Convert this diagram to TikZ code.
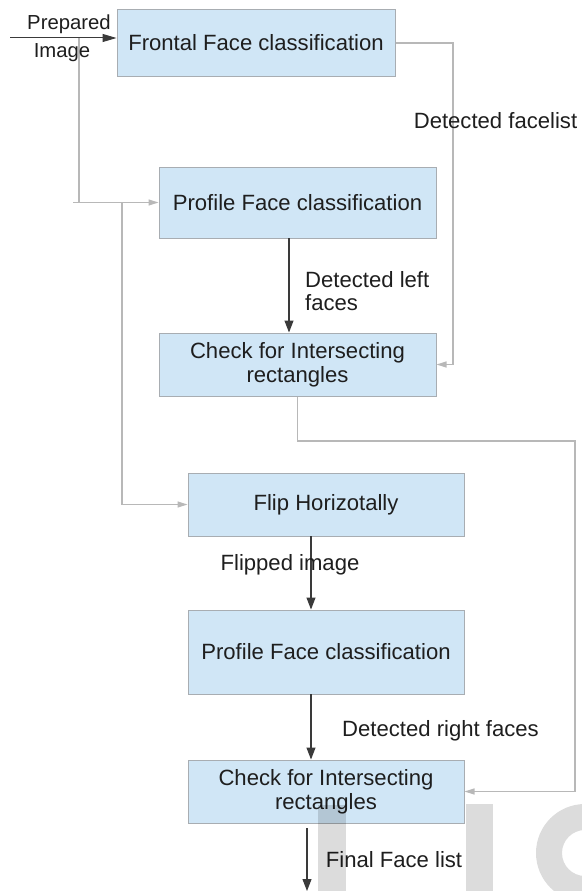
\documentclass[tikz,border=0pt]{standalone}
\usepackage{fontspec}
\setmainfont{Liberation Sans}
\usetikzlibrary{arrows.meta}
\definecolor{boxfill}{HTML}{D0E6F6}
\definecolor{boxline}{HTML}{A8ADB2}
\definecolor{wire}{HTML}{B8B8B8}
\definecolor{flow}{HTML}{3A3A3A}
\definecolor{ink}{HTML}{1E1E1E}
\definecolor{stampgrey}{HTML}{DCDCDC}
\tikzset{
  stage/.style={draw=boxline, line width=1pt, fill=boxfill, text=ink,
    inner sep=0pt, align=center, font=\fontsize{22.1}{24}\selectfont},
  lbl/.style={text=ink, inner sep=0pt, font=\fontsize{22.1}{24}\selectfont},
  smalllbl/.style={lbl, font=\fontsize{20.3}{22}\selectfont},
  sidewire/.style={draw=wire, line width=1.2pt},
  sidearrow/.style={sidewire, -{Triangle[length=10pt,width=6pt]}},
  mainarrow/.style={draw=flow, line width=1.1pt, -{Triangle[length=12pt,width=9pt]}},
}
\begin{document}
\begin{tikzpicture}[x=1pt,y=-1pt]
\useasboundingbox (0,0) rectangle (581,891);

% processing stages
\node[stage, minimum width=278pt, minimum height=66pt] (front) at (256,43) {Frontal Face classification};
\node[stage, minimum width=277pt, minimum height=71pt] (prof1) at (297.5,202.5) {Profile Face classification};
\node[stage, minimum width=277pt, minimum height=63pt] (chk1) at (297.5,364.5) {Check for Intersecting\\rectangles};
\node[stage, minimum width=276pt, minimum height=63pt] (flip) at (326,504.5) {Flip Horizotally};
\node[stage, minimum width=276pt, minimum height=84pt] (prof2) at (326,652) {Profile Face classification};
\node[stage, minimum width=276pt, minimum height=63pt] (chk2) at (326,791.5) {Check for Intersecting\\rectangles};

% helper points for the routed wires
\coordinate (inp) at (10,38);
\coordinate (j1) at (79,38);
\coordinate (stub) at (73,202.5);
\coordinate (j2) at (122,202.5);
\coordinate (r1) at (453,43);
\coordinate (r2) at (575,441);
\coordinate (a1) at (289,238);
\coordinate (a2) at (311,536);
\coordinate (a3) at (311,694);
\coordinate (o1) at (307,828);
\coordinate (o2) at (307,891);

% input
\draw[draw=flow, line width=1pt, -{Triangle[length=14pt,width=8pt]}] (inp) -- (inp -| front.west);
\draw[sidearrow] (j1) |- (prof1.west);
\draw[sidewire] (stub) -- (j1 |- prof1.west);
\draw[sidearrow] (j2) |- (flip.west);

% frontal detections to the first merge
\draw[sidearrow] (front.east) -- (r1) |- (chk1.east);
% left profile detections
\draw[mainarrow] (a1) -- (a1 |- chk1.north);
% first merge to the second merge
\draw[sidearrow] (chk1.south) |- (r2) |- (chk2.east);
% flipped branch
\draw[mainarrow] (a2) -- (a2 |- prof2.north);
\draw[mainarrow] (a3) -- (a3 |- chk2.north);
% output
\draw[mainarrow] (o1) -- (o2);

% wire labels
\node[smalllbl, anchor=base] (lprep) at (69,30) {Prepared};
\node[smalllbl, anchor=base] (limg) at (62,58) {Image};
\node[lbl, anchor=base] (lfront) at (495.5,128) {Detected facelist};
\node[lbl, anchor=base west, align=left] (lleft) at (305,287) {Detected left};
\node[lbl, anchor=base west] (lleft2) at (305,310) {faces};
\node[lbl, anchor=base] (lflip) at (290,570) {Flipped image};
\node[lbl, anchor=base] (lright) at (440.5,736) {Detected right faces};
\node[lbl, anchor=base] (lfinal) at (394,867) {Final Face list};

% publisher stamp in the corner
\begin{scope}[blend mode=multiply]
\fill[stampgrey] (318,805) rectangle (346,891);
\fill[stampgrey] (466,804) rectangle (493,891);
\fill[stampgrey, even odd rule] (585,853) circle[radius=49] (585,853) circle[radius=23];
\end{scope}
\end{tikzpicture}
\end{document}
